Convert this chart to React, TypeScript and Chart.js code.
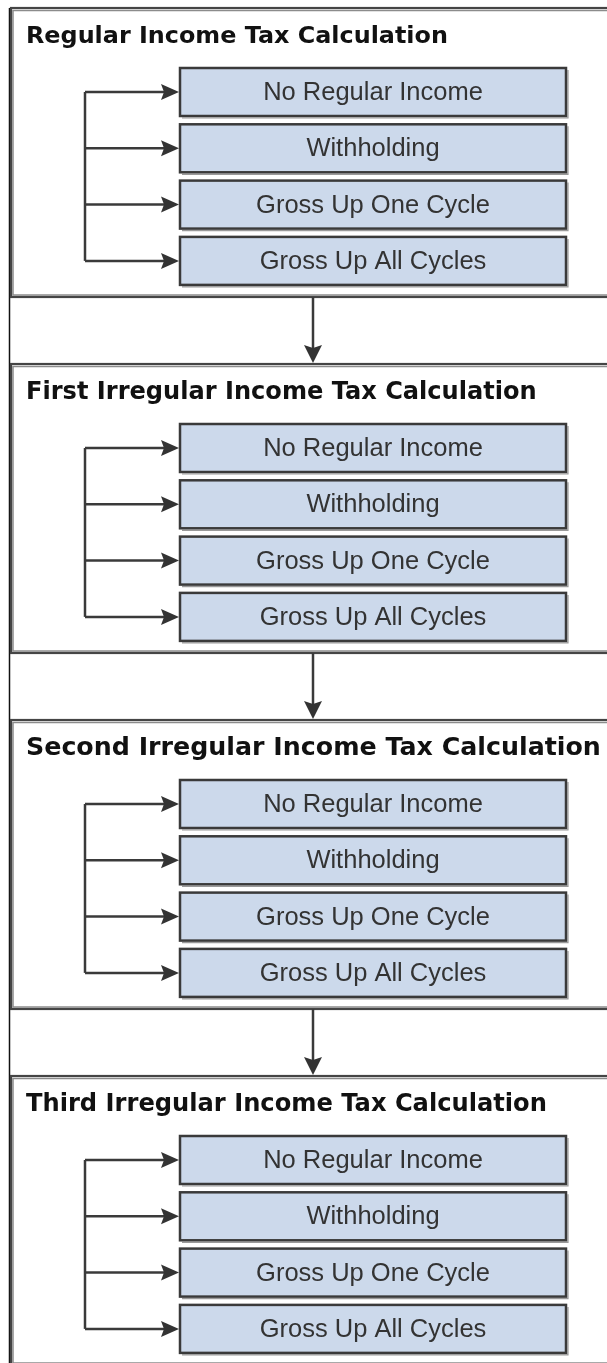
import React, { useEffect, useRef } from "react";
import { Chart, registerables } from "chart.js";

Chart.register(...registerables);

// ---- content ----
const sectionTitles = [
  "Regular Income Tax Calculation",
  "First Irregular Income Tax Calculation",
  "Second Irregular Income Tax Calculation",
  "Third Irregular Income Tax Calculation",
];
// rendered width of each title in the reference (value units)
const titleWidths = [422, 511, 575, 521];
const stepLabels = [
  "No Regular Income",
  "Withholding",
  "Gross Up One Cycle",
  "Gross Up All Cycles",
];

// ---- layout (value space of the scales) ----
const W = 607;
const H = 1363;
const SEC_TOP0 = 8;
const SEC_PITCH = 356;
const SEC_H = 289;
const SEC_LEFT = 11;
const TITLE_X = 26;
const TITLE_BASE = 34.5;
const BOX_L = 180;
const BOX_R = 566;
const BOX_TOP0 = 60;
const BOX_PITCH = 56.3;
const BOX_H = 48;
const TRUNK_X = 85;
const ARROW_X = 313;

const App: React.FC = () => {
  const ref = useRef<HTMLCanvasElement | null>(null);

  useEffect(() => {
    document.body.style.margin = "0";
    const canvas = ref.current;
    if (!canvas) return;

    const diagram = {
      id: "diagram",
      afterDraw(chart: any) {
        const ctx: CanvasRenderingContext2D = chart.ctx;
        const xs = chart.scales.x;
        const ys = chart.scales.y;
        const px = (v: number) => xs.getPixelForValue(v);
        const py = (v: number) => ys.getPixelForValue(v);

        ctx.save();
        ctx.fillStyle = "#ffffff";
        ctx.fillRect(0, 0, chart.width, chart.height);

        // page left rule
        ctx.strokeStyle = "#111";
        ctx.lineWidth = 1.5;
        ctx.beginPath();
        ctx.moveTo(px(9.5), py(SEC_TOP0));
        ctx.lineTo(px(9.5), py(H));
        ctx.stroke();

        const titleFont = (s: number) => `bold ${s.toFixed(2)}px 'DejaVu Sans', Verdana, sans-serif`;

        sectionTitles.forEach((title, si) => {
          const top = SEC_TOP0 + si * SEC_PITCH;
          const bot = top + SEC_H;

          // section frame (double line)
          ctx.strokeStyle = "#8c8c8c";
          ctx.lineWidth = 1.5;
          ctx.strokeRect(px(SEC_LEFT + 2), py(top + 2.5), px(W + 20) - px(SEC_LEFT + 2), py(bot - 2) - py(top + 2.5));
          ctx.strokeStyle = "#454545";
          ctx.lineWidth = 2.2;
          ctx.strokeRect(px(SEC_LEFT), py(top), px(W + 20) - px(SEC_LEFT), py(bot) - py(top));

          // title, sized to its reference width
          ctx.font = titleFont(21);
          const mw = ctx.measureText(title).width;
          const size = (21 * (px(titleWidths[si]) - px(0))) / mw;
          ctx.fillStyle = "#111";
          ctx.font = titleFont(size);
          ctx.textAlign = "left";
          ctx.textBaseline = "alphabetic";
          ctx.fillText(title, px(TITLE_X), py(top + TITLE_BASE));

          // trunk line
          const firstC = top + BOX_TOP0 + BOX_H / 2;
          const lastC = top + BOX_TOP0 + (stepLabels.length - 1) * BOX_PITCH + BOX_H / 2;
          ctx.strokeStyle = "#3a3a3a";
          ctx.lineWidth = 2.5;
          ctx.beginPath();
          ctx.moveTo(px(TRUNK_X), py(firstC));
          ctx.lineTo(px(TRUNK_X), py(lastC));
          ctx.stroke();

          stepLabels.forEach((label, bi) => {
            const bt = top + BOX_TOP0 + bi * BOX_PITCH;
            const bc = bt + BOX_H / 2;
            // box
            ctx.fillStyle = "#ccd9eb";
            ctx.fillRect(px(BOX_L), py(bt), px(BOX_R) - px(BOX_L), py(bt + BOX_H) - py(bt));
            ctx.strokeStyle = "#9a9a9a";
            ctx.lineWidth = 1.2;
            ctx.beginPath();
            ctx.moveTo(px(BOX_R + 2), py(bt + 2));
            ctx.lineTo(px(BOX_R + 2), py(bt + BOX_H + 2));
            ctx.lineTo(px(BOX_L + 2), py(bt + BOX_H + 2));
            ctx.stroke();
            ctx.strokeStyle = "#3a3a3a";
            ctx.lineWidth = 2.5;
            ctx.strokeRect(px(BOX_L), py(bt), px(BOX_R) - px(BOX_L), py(bt + BOX_H) - py(bt));

            // connector
            ctx.beginPath();
            ctx.moveTo(px(TRUNK_X), py(bc));
            ctx.lineTo(px(BOX_L - 14), py(bc));
            ctx.stroke();
            ctx.fillStyle = "#333";
            ctx.beginPath();
            ctx.moveTo(px(BOX_L - 1), py(bc));
            ctx.lineTo(px(BOX_L - 19), py(bc - 8));
            ctx.lineTo(px(BOX_L - 16), py(bc));
            ctx.lineTo(px(BOX_L - 19), py(bc + 8));
            ctx.closePath();
            ctx.fill();

            // label
            ctx.fillStyle = "#333";
            ctx.font = "25.5px 'Liberation Sans', Arial, sans-serif";
            ctx.textAlign = "center";
            ctx.textBaseline = "middle";
            ctx.fillText(label, px((BOX_L + BOX_R) / 2), py(bc + 1));
          });

          // arrow to next section
          if (si < sectionTitles.length - 1) {
            const nextTop = SEC_TOP0 + (si + 1) * SEC_PITCH;
            ctx.strokeStyle = "#3a3a3a";
            ctx.lineWidth = 2.5;
            ctx.beginPath();
            ctx.moveTo(px(ARROW_X), py(bot));
            ctx.lineTo(px(ARROW_X), py(nextTop - 12));
            ctx.stroke();
            ctx.fillStyle = "#333";
            ctx.beginPath();
            ctx.moveTo(px(ARROW_X), py(nextTop - 1));
            ctx.lineTo(px(ARROW_X - 9), py(nextTop - 19));
            ctx.lineTo(px(ARROW_X), py(nextTop - 16));
            ctx.lineTo(px(ARROW_X + 9), py(nextTop - 19));
            ctx.closePath();
            ctx.fill();
          }
        });
        ctx.restore();
      },
    };

    const chart = new Chart(canvas, {
      type: "scatter",
      data: { datasets: [{ data: [], pointRadius: 0 }] },
      options: {
        responsive: false,
        animation: false,
        layout: { padding: 0 },
        events: [],
        plugins: { legend: { display: false }, tooltip: { enabled: false } },
        scales: {
          x: { type: "linear", min: 0, max: W, display: false },
          y: { type: "linear", min: 0, max: H, reverse: true, display: false },
        },
      },
      plugins: [diagram],
    });
    return () => chart.destroy();
  }, []);

  return (
    <canvas
      ref={ref}
      width={W}
      height={H}
      style={{ display: "block", width: W, height: H }}
    />
  );
};

export default App;
